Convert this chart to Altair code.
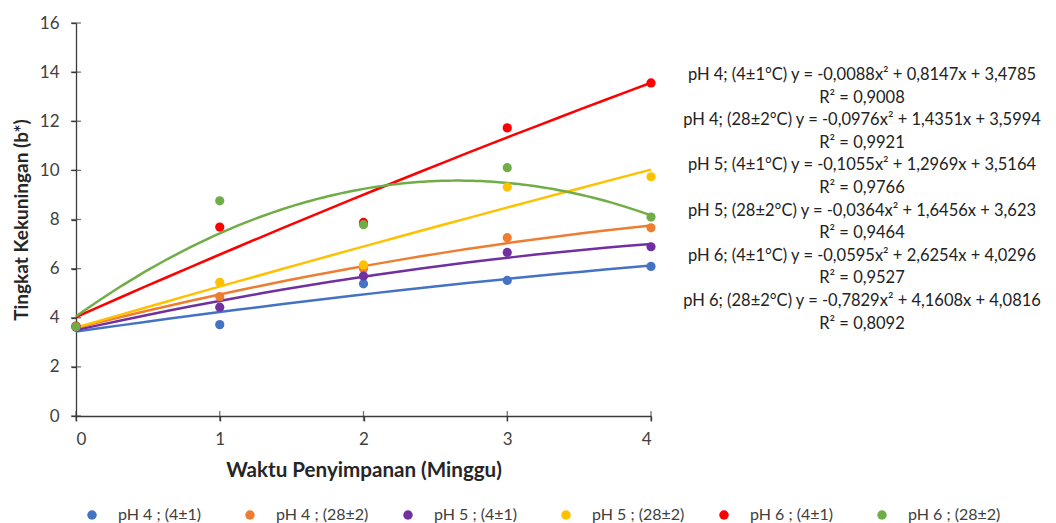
import altair as alt
import pandas as pd

weeks = [0, 1, 2, 3, 4]
series = ["pH 4 ; (4±1)", "pH 4 ; (28±2)", "pH 5 ; (4±1)", "pH 5 ; (28±2)", "pH 6 ; (4±1)", "pH 6 ; (28±2)"]
colors = ["#4472C4", "#ED7D31", "#7030A0", "#FFC000", "#FF0000", "#70AD47"]
values = {
    "pH 4 ; (4±1)":  [3.62, 3.72, 5.38, 5.52, 6.09],
    "pH 4 ; (28±2)": [3.64, 4.86, 6.00, 7.26, 7.66],
    "pH 5 ; (4±1)":  [3.62, 4.43, 5.70, 6.66, 6.89],
    "pH 5 ; (28±2)": [3.64, 5.44, 6.15, 9.32, 9.74],
    "pH 6 ; (4±1)":  [3.66, 7.69, 7.88, 11.73, 13.56],
    "pH 6 ; (28±2)": [3.64, 8.76, 7.79, 10.11, 8.10],
}
y_ticks = [0, 2, 4, 6, 8, 10, 12, 14, 16]
x_ticks = [0, 1, 2, 3, 4]
equations = [
    "pH 4; (4±1°C) y = -0,0088x² + 0,8147x + 3,4785", "R² = 0,9008",
    "pH 4; (28±2°C) y = -0,0976x² + 1,4351x + 3,5994", "R² = 0,9921",
    "pH 5; (4±1°C) y = -0,1055x² + 1,2969x + 3,5164", "R² = 0,9766",
    "pH 5; (28±2°C) y = -0,0364x² + 1,6456x + 3,623", "R² = 0,9464",
    "pH 6; (4±1°C) y = -0,0595x² + 2,6254x + 4,0296", "R² = 0,9527",
    "pH 6; (28±2°C) y = -0,7829x² + 4,1608x + 4,0816", "R² = 0,8092",
]

rows = []
for s in series:
    for w, v in zip(weeks, values[s]):
        rows.append({"Minggu": w, "b": v, "Seri": s})
df = pd.DataFrame(rows)

FONT = "Lato"
xs = alt.Scale(domain=[0, 4], nice=False)
ys = alt.Scale(domain=[0, 16], nice=False)
cs = alt.Scale(domain=series, range=colors)

base = alt.Chart(df)

lines = base.transform_regression(
    "Minggu", "b", method="poly", order=2, groupby=["Seri"], extent=[0, 4]
).mark_line(strokeWidth=2.5, clip=False).encode(
    x=alt.X("Minggu:Q", scale=xs),
    y=alt.Y("b:Q", scale=ys),
    color=alt.Color("Seri:N", scale=cs, sort=series, legend=None),
    detail="Seri:N",
)

points = base.mark_circle(size=85, opacity=1).encode(
    x=alt.X("Minggu:Q", scale=xs,
            axis=alt.Axis(values=x_ticks, format="d", title="Waktu Penyimpanan (Minggu)",
                          grid=False, tickSize=5, labelPadding=10, titlePadding=13,
                          titleFontSize=20.6)),
    y=alt.Y("b:Q", scale=ys,
            axis=alt.Axis(values=y_ticks, format="d", title="Tingkat Kekuningan (b*)",
                          grid=False, tickSize=5, labelPadding=12, titlePadding=8,
                          titleFontSize=19)),
    color=alt.Color("Seri:N", scale=cs, sort=series,
                    legend=alt.Legend(title=None, orient="none", direction="horizontal",
                                      columns=6, legendX=8, legendY=484, symbolType="circle",
                                      symbolSize=90, symbolStrokeWidth=0, labelFont=FONT,
                                      labelFontSize=16, labelColor="#404040", columnPadding=31,
                                      gridAlign="all", labelOffset=18, labelLimit=220)),
)

ytick_df = pd.DataFrame({"v": y_ticks, "z": [0] * len(y_ticks)})
xtick_df = pd.DataFrame({"v": x_ticks, "z": [0] * len(x_ticks)})
yticks = alt.Chart(ytick_df).mark_tick(orient="horizontal", size=10, thickness=1.3,
                                       color="#3a3a3a", clip=False).encode(
    x=alt.X("z:Q", scale=xs), y=alt.Y("v:Q", scale=ys))
xticks = alt.Chart(xtick_df).mark_tick(orient="vertical", size=10, thickness=1.3,
                                       color="#3a3a3a", clip=False).encode(
    x=alt.X("v:Q", scale=xs), y=alt.Y("z:Q", scale=ys))

eq = alt.Chart(pd.DataFrame({"t": [equations]})).mark_text(
    font=FONT, fontSize=16.5, color="#222222", align="center", baseline="middle",
    lineHeight=22.6, lineBreak="\n"
).encode(x=alt.value(786), y=alt.value(52), text="t")

chart = alt.layer(lines, yticks, xticks, points, eq).resolve_legend(
    color="independent"
).properties(
    width=575, height=393,
    autosize=alt.AutoSizeParams(type="none"),
    padding={"left": 68, "top": 15, "right": 397, "bottom": 107},
).configure_view(stroke=None).configure_axis(
    domainColor="#3a3a3a", domainWidth=1.3, tickColor="#3a3a3a", tickWidth=1.3,
    labelFont=FONT, labelFontSize=17, labelColor="#404040",
    titleFont=FONT, titleFontWeight="bold", titleColor="#262626",
)

chart.save("out.html", embed_options={"renderer": "svg", "actions": False})
